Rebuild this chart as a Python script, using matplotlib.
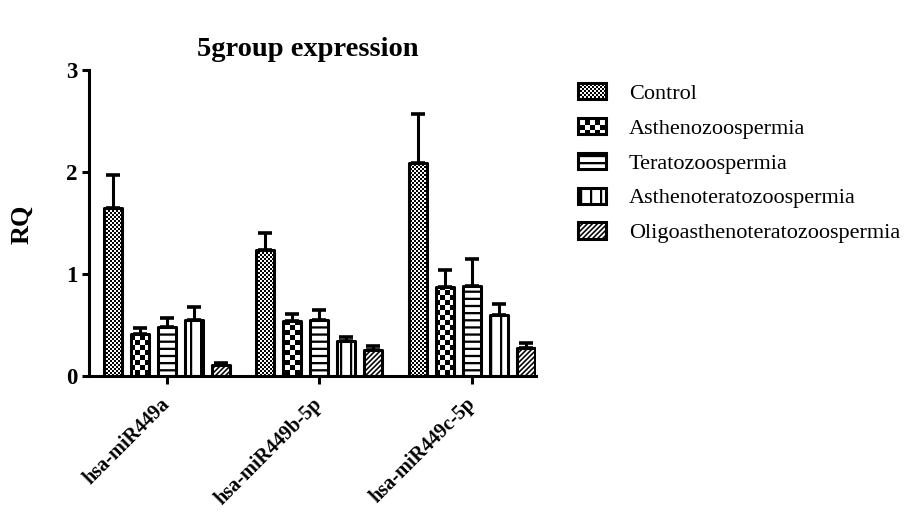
import numpy as np
import matplotlib
matplotlib.use('Agg')
from matplotlib import pyplot as plt
import matplotlib.hatch as mhatch
from matplotlib.path import Path
import warnings

warnings.filterwarnings('ignore')

mirnas = ['hsa-miR449a', 'hsa-miR449b-5p', 'hsa-miR449c-5p']
groups = ['Control', 'Asthenozoospermia', 'Teratozoospermia',
          'Asthenoteratozoospermia', 'Oligoasthenoteratozoospermia']

# mean RQ per group, one value per miRNA
control = [1.65, 1.24, 2.09]
astheno = [0.415, 0.54, 0.87]
terato = [0.48, 0.55, 0.88]
asthenoterato = [0.55, 0.34, 0.60]
oligo = [0.11, 0.25, 0.27]

# top of the error bar (mean + SEM)
control_top = [1.97, 1.40, 2.57]
astheno_top = [0.47, 0.61, 1.04]
terato_top = [0.57, 0.65, 1.15]
asthenoterato_top = [0.68, 0.38, 0.71]
oligo_top = [0.13, 0.29, 0.32]

means = [control, astheno, terato, asthenoterato, oligo]
tops = [control_top, astheno_top, terato_top, asthenoterato_top, oligo_top]


# filled hatch patterns (checkers, stripes) like the prism style fills
def checker(n):
    s = 1.0 / n
    out = []
    for i in range(n):
        for j in range(n):
            if (i + j) % 2 == 0:
                x, y = i * s, j * s
                out.append([(x, y), (x + s, y), (x + s, y + s), (x, y + s)])
    return out


def hstripes(n, frac):
    s = 1.0 / n
    return [[(0, k * s), (1, k * s), (1, k * s + frac * s), (0, k * s + frac * s)]
            for k in range(n)]


def vstripes(n, frac):
    s = 1.0 / n
    return [[(k * s, 0), (k * s + frac * s, 0), (k * s + frac * s, 1), (k * s, 1)]
            for k in range(n)]


def diag(n, frac):
    s = 1.0 / n
    t = frac * s
    return [[(k * s, 0), (k * s + t, 0), (k * s + t + 1, 1), (k * s + 1, 1)]
            for k in range(-n, n + 1)]


class FilledHatch(mhatch.HatchPatternBase):
    def __init__(self, hatch, density):
        self.polys = []
        if 'c' in hatch:
            self.polys += checker(50)
        if 'k' in hatch:
            self.polys += checker(20)
        if 'h' in hatch:
            self.polys += hstripes(14, 0.32)
        if 'v' in hatch:
            self.polys += vstripes(10, 0.22)
        if 'd' in hatch:
            self.polys += diag(20, 0.45)
        self.num_vertices = 5 * len(self.polys)

    def set_vertices_and_codes(self, vertices, codes):
        for i, p in enumerate(self.polys):
            vertices[5 * i:5 * i + 4] = p
            vertices[5 * i + 4] = p[0]
            codes[5 * i] = Path.MOVETO
            codes[5 * i + 1:5 * i + 4] = Path.LINETO
            codes[5 * i + 4] = Path.CLOSEPOLY


mhatch._hatch_types.append(FilledHatch)

hatches = ['c', 'k', 'h', 'v', 'd']

plt.rcParams['font.family'] = ['Liberation Serif', 'DejaVu Serif']
plt.rcParams['hatch.linewidth'] = 0.01
plt.rcParams['hatch.color'] = 'black'

fig = plt.figure(figsize=(9.16, 5.31), dpi=100)
ax = fig.add_axes([0.0972, 0.2919, 0.488, 0.5763])

x = np.arange(len(mirnas))
step = 0.177
width = 0.118
for i, g in enumerate(groups):
    pos = x + (i - 2) * step
    err = np.array(tops[i]) - np.array(means[i])
    ax.bar(pos, means[i], width, color='white', edgecolor='black',
           linewidth=2.2, hatch=hatches[i], label=g, joinstyle='round')
    ax.errorbar(pos, means[i], yerr=[np.zeros(len(err)), err], fmt='none',
                ecolor='black', elinewidth=2.2, capsize=4.7, capthick=2.6)

ax.set_xlim(-0.511, 2.42)
ax.set_ylim(0, 3)
ax.set_yticks([0, 1, 2, 3])
ax.set_xticks(x)
ax.set_xticklabels(mirnas, rotation=45, ha='right', va='center',
                   rotation_mode='anchor', fontsize=14.5, fontweight='bold')
for lab in ax.get_yticklabels():
    lab.set_fontsize(16.5)
    lab.set_fontweight('bold')
ax.tick_params(axis='y', direction='out', length=5, width=2.2, pad=3)
ax.tick_params(axis='x', direction='out', length=6, width=2.2, pad=12)
for s in ['top', 'right']:
    ax.spines[s].set_visible(False)
for s in ['left', 'bottom']:
    ax.spines[s].set_linewidth(2.2)

fig.text(308 / 916, 1 - 49 / 531, '5group expression', ha='center', va='center',
         fontsize=20.5, fontweight='bold')
fig.text(22 / 916, 1 - 224 / 531, 'RQ', ha='center', va='center', rotation=90,
         fontsize=19, fontweight='bold')

fig.legend(loc='upper left', bbox_to_anchor=(569 / 916, 1 - 74 / 531),
           frameon=False, fontsize=16, handlelength=1.25, handleheight=0.75,
           labelspacing=0.63, handletextpad=1.05, borderaxespad=0)

fig.savefig('out.png', dpi=100)
